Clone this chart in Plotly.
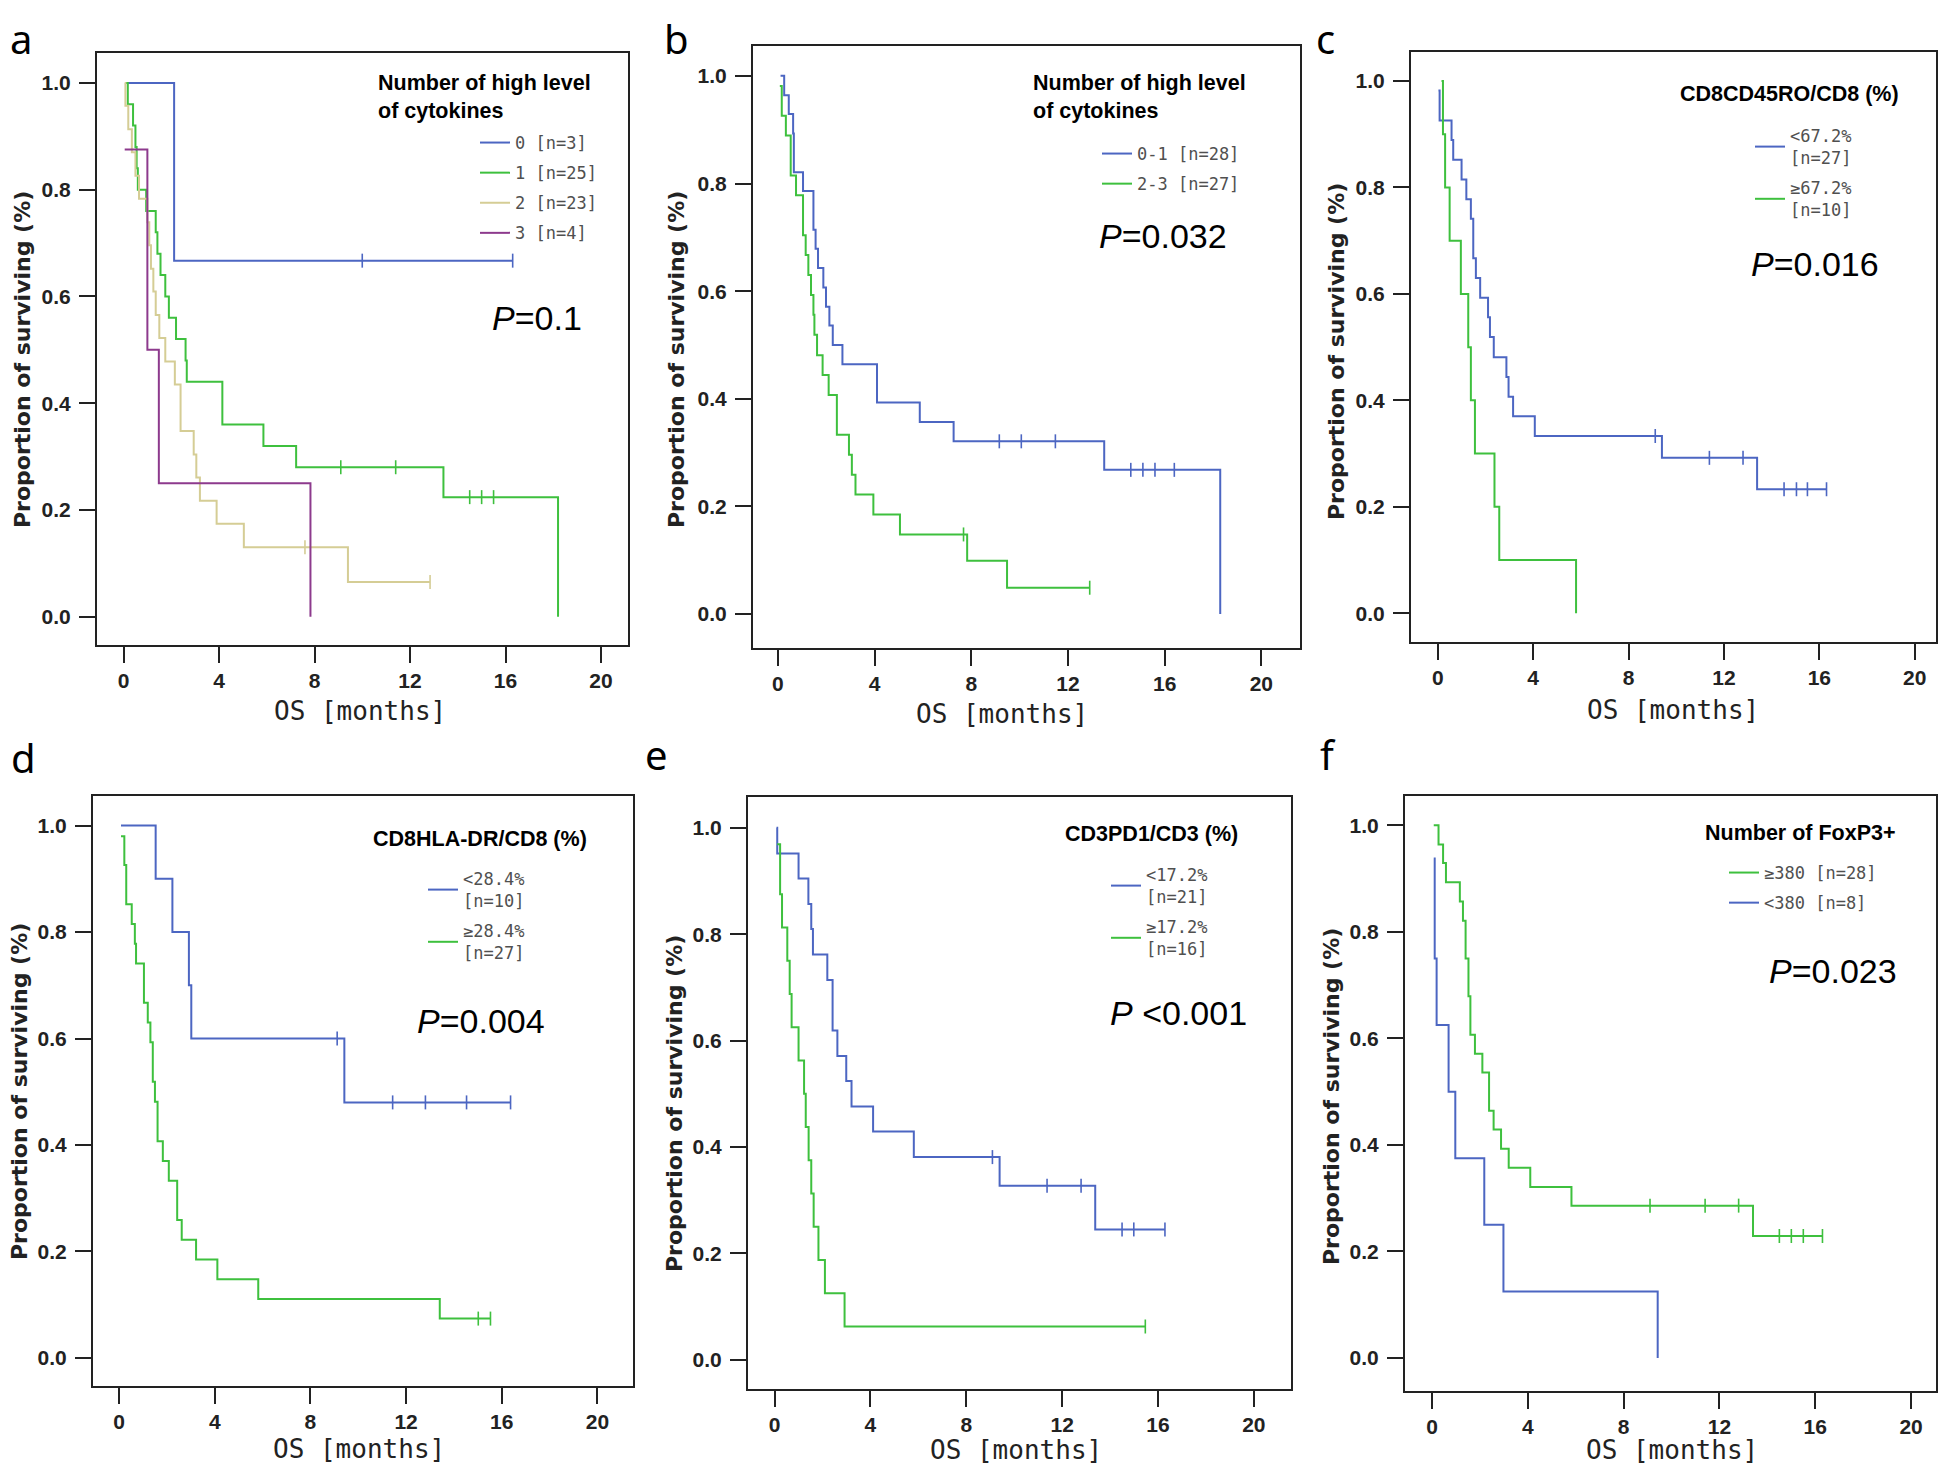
import numpy as np
import plotly.graph_objects as go

# ---------------- data ----------------
X_TICKS = [0, 4, 8, 12, 16, 20]
Y_TICKS = [0.0, 0.2, 0.4, 0.6, 0.8, 1.0]

# panel a : number of high level cytokines (0,1,2,3)
a0_start = (0.18, 1.0)
a0_t = [2.12]
a0_s = [0.667]
a0_end = 16.3
a0_cens = [10.0, 16.3]

a1_start = (0.10, 1.0)
a1_t = [0.18, 0.40, 0.50, 0.55, 0.60, 0.95, 1.35, 1.42, 1.55, 1.75, 1.90, 2.20, 2.60, 2.65, 4.14, 5.86, 7.23, 13.40, 18.20]
a1_s = [0.96, 0.92, 0.88, 0.84, 0.80, 0.76, 0.72, 0.68, 0.64, 0.60, 0.56, 0.52, 0.48, 0.44, 0.36, 0.32, 0.28, 0.224, 0.0]
a1_end = None
a1_cens = [9.1, 11.4, 14.5, 15.0, 15.5]

a2_start = (0.05, 1.0)
a2_t = [0.08, 0.20, 0.35, 0.50, 0.65, 1.00, 1.08, 1.15, 1.25, 1.35, 1.50, 1.75, 2.15, 2.39, 2.94, 3.05, 3.20, 3.90, 5.04, 9.40]
a2_s = [0.957, 0.913, 0.870, 0.826, 0.783, 0.739, 0.696, 0.652, 0.609, 0.565, 0.522, 0.478, 0.435, 0.348, 0.304, 0.261, 0.217, 0.174, 0.130, 0.065]
a2_end = 12.84
a2_cens = [7.6, 12.84]

a3_start = (0.05, 0.875)
a3_t = [1.00, 1.48, 7.83]
a3_s = [0.50, 0.25, 0.0]
a3_end = None
a3_cens = []

# panel b : 0-1 vs 2-3 cytokines
b1_start = (0.11, 1.0)
b1_t = [0.26, 0.45, 0.63, 0.66, 1.04, 1.47, 1.56, 1.66, 1.88, 1.99, 2.13, 2.27, 2.67, 4.10, 5.87, 7.27, 13.50, 18.30]
b1_s = [0.964, 0.929, 0.893, 0.821, 0.786, 0.714, 0.679, 0.643, 0.607, 0.571, 0.536, 0.500, 0.464, 0.393, 0.357, 0.321, 0.268, 0.0]
b1_end = None
b1_cens = [9.16, 10.07, 11.48, 14.6, 15.1, 15.6, 16.4]

b2_start = (0.08, 0.981)
b2_t = [0.16, 0.33, 0.53, 0.75, 1.04, 1.15, 1.26, 1.37, 1.47, 1.51, 1.62, 1.85, 2.10, 2.44, 2.94, 3.06, 3.21, 3.95, 5.05, 7.83, 9.48]
b2_s = [0.926, 0.889, 0.815, 0.778, 0.704, 0.667, 0.630, 0.593, 0.556, 0.519, 0.481, 0.444, 0.407, 0.333, 0.296, 0.259, 0.222, 0.185, 0.148, 0.099, 0.049]
b2_end = 12.9
b2_cens = [7.68, 12.9]

# panel c : CD8CD45RO/CD8
c1_start = (0.03, 0.982)
c1_t = [0.08, 0.58, 0.65, 1.00, 1.20, 1.39, 1.49, 1.60, 1.78, 2.11, 2.19, 2.35, 2.88, 2.97, 3.16, 4.07, 9.40, 13.39]
c1_s = [0.926, 0.889, 0.852, 0.815, 0.778, 0.741, 0.667, 0.630, 0.593, 0.556, 0.519, 0.481, 0.444, 0.407, 0.370, 0.333, 0.292, 0.233]
c1_end = 16.3
c1_cens = [9.12, 11.39, 12.8, 14.52, 15.04, 15.5, 16.3]

c2_start = (0.16, 1.0)
c2_t = [0.22, 0.31, 0.50, 0.97, 1.28, 1.39, 1.56, 2.38, 2.58, 5.80]
c2_s = [0.9, 0.8, 0.7, 0.6, 0.5, 0.4, 0.3, 0.2, 0.1, 0.0]
c2_end = None
c2_cens = []

# panel d : CD8HLA-DR/CD8
d1_start = (0.08, 1.0)
d1_t = [1.53, 2.23, 2.92, 3.02, 9.42]
d1_s = [0.9, 0.8, 0.7, 0.6, 0.48]
d1_end = 16.37
d1_cens = [9.12, 11.44, 12.81, 14.53, 16.37]

d2_start = (0.08, 0.98)
d2_t = [0.22, 0.30, 0.53, 0.66, 0.71, 1.04, 1.20, 1.31, 1.41, 1.50, 1.61, 1.83, 2.08, 2.43, 2.62, 3.22, 4.11, 5.82, 13.41]
d2_s = [0.926, 0.852, 0.815, 0.778, 0.741, 0.667, 0.630, 0.593, 0.519, 0.481, 0.407, 0.370, 0.333, 0.259, 0.222, 0.185, 0.148, 0.111, 0.074]
d2_end = 15.53
d2_cens = [15.02, 15.53]

# panel e : CD3PD1/CD3
e1_start = (0.08, 1.0)
e1_t = [0.11, 1.00, 1.41, 1.53, 1.60, 2.20, 2.42, 2.62, 2.99, 3.21, 4.11, 5.81, 9.39, 13.38]
e1_s = [0.952, 0.905, 0.857, 0.810, 0.762, 0.714, 0.619, 0.571, 0.524, 0.476, 0.429, 0.381, 0.327, 0.245]
e1_end = 16.29
e1_cens = [9.09, 11.37, 12.79, 14.5, 14.99, 16.29]

e2_start = (0.11, 0.969)
e2_t = [0.23, 0.31, 0.53, 0.63, 0.71, 1.00, 1.23, 1.30, 1.42, 1.53, 1.63, 1.83, 2.10, 2.92]
e2_s = [0.875, 0.8125, 0.75, 0.6875, 0.625, 0.5625, 0.5, 0.4375, 0.375, 0.3125, 0.25, 0.1875, 0.125, 0.0625]
e2_end = 15.47
e2_cens = [15.47]

# panel f : number of FoxP3+
f1_start = (0.07, 1.0)
f1_t = [0.27, 0.46, 0.58, 1.16, 1.29, 1.40, 1.52, 1.60, 1.79, 2.10, 2.38, 2.57, 2.88, 3.20, 4.10, 5.82, 13.40]
f1_s = [0.964, 0.929, 0.893, 0.857, 0.821, 0.750, 0.679, 0.607, 0.571, 0.536, 0.464, 0.429, 0.393, 0.357, 0.321, 0.286, 0.229]
f1_end = 16.3
f1_cens = [9.1, 11.4, 12.8, 14.5, 15.0, 15.5, 16.3]

f2_start = (0.07, 0.9375)
f2_t = [0.11, 0.19, 0.69, 0.97, 2.18, 2.98, 9.42]
f2_s = [0.75, 0.625, 0.5, 0.375, 0.25, 0.125, 0.0]
f2_end = None
f2_cens = []

# labels
legend_titles = ["Number of high level<br>of cytokines", "Number of high level<br>of cytokines",
                 "CD8CD45RO/CD8 (%)", "CD8HLA-DR/CD8 (%)", "CD3PD1/CD3 (%)", "Number of FoxP3+"]
p_texts = ["<i>P</i>=0.1", "<i>P</i>=0.032", "<i>P</i>=0.016", "<i>P</i>=0.004",
           "<i>P</i> &lt;0.001", "<i>P</i>=0.023"]
panel_letters = ["a", "b", "c", "d", "e", "f"]

# ---------------- styling / layout ----------------
W, H, OFF = 1930, 1456, 8
def px(X):
    return min(max((X - OFF) / W, 0.0), 1.0)
def py(Y):
    return min(max(1 - (Y - OFF) / H, 0.0), 1.0)

BLUE = '#4c66c2'
GREEN = '#3ec03e'
TAN = '#d5cd95'
PURPLE = '#8d3a8d'
INK = '#222222'

curves = [
    # panel, name, color, start, t, s, end, censors
    (0, "0 [n=3]", BLUE, a0_start, a0_t, a0_s, a0_end, a0_cens),
    (0, "1 [n=25]", GREEN, a1_start, a1_t, a1_s, a1_end, a1_cens),
    (0, "2 [n=23]", TAN, a2_start, a2_t, a2_s, a2_end, a2_cens),
    (0, "3 [n=4]", PURPLE, a3_start, a3_t, a3_s, a3_end, a3_cens),
    (1, "0-1 [n=28]", BLUE, b1_start, b1_t, b1_s, b1_end, b1_cens),
    (1, "2-3 [n=27]", GREEN, b2_start, b2_t, b2_s, b2_end, b2_cens),
    (2, "&lt;67.2%<br>[n=27]", BLUE, c1_start, c1_t, c1_s, c1_end, c1_cens),
    (2, "≥67.2%<br>[n=10]", GREEN, c2_start, c2_t, c2_s, c2_end, c2_cens),
    (3, "&lt;28.4%<br>[n=10]", BLUE, d1_start, d1_t, d1_s, d1_end, d1_cens),
    (3, "≥28.4%<br>[n=27]", GREEN, d2_start, d2_t, d2_s, d2_end, d2_cens),
    (4, "&lt;17.2%<br>[n=21]", BLUE, e1_start, e1_t, e1_s, e1_end, e1_cens),
    (4, "≥17.2%<br>[n=16]", GREEN, e2_start, e2_t, e2_s, e2_end, e2_cens),
    (5, "≥380 [n=28]", GREEN, f1_start, f1_t, f1_s, f1_end, f1_cens),
    (5, "&lt;380 [n=8]", BLUE, f2_start, f2_t, f2_s, f2_end, f2_cens),
]

# panel boxes in pixel coords (left, top, right, bottom), x range, y range
panels = [
    dict(box=(97, 53, 628, 645), xr=(-1.11, 21.13), yr=(-0.053, 1.056)),
    dict(box=(753, 46, 1300, 648), xr=(-1.03, 21.6), yr=(-0.063, 1.0555)),
    dict(box=(1411, 52, 1936, 642), xr=(-1.12, 20.89), yr=(-0.054, 1.0545)),
    dict(box=(93, 796, 633, 1386), xr=(-1.09, 21.49), yr=(-0.0526, 1.0554)),
    dict(box=(748, 797, 1291, 1389), xr=(-1.11, 21.55), yr=(-0.055, 1.058)),
    dict(box=(1405, 796, 1936, 1391), xr=(-1.13, 21.04), yr=(-0.062, 1.055)),
]
legend_pos = [(475, 125), (1097, 136), (1750, 118), (423, 861), (1106, 857), (1724, 855)]
legend_title_pos = [(376, 69), (1031, 69), (1678, 80), (371, 825), (1063, 820), (1703, 819)]
p_pos = [(490, 318), (1097, 236), (1749, 264), (415, 1021), (1108, 1013), (1767, 971)]
xtitle_pos = [(360, 711), (1002, 714), (1673, 710), (359, 1449), (1016, 1450), (1672, 1450)]
ytitle_pos = [(22, 360), (676, 360), (1336, 352), (19, 1092), (674, 1104), (1331, 1097)]
# (left x, y, anchor) for the panel letters
letter_pos = [(8, 9, 'top'), (662, 9, 'top'), (1314, 9, 'top'),
              (9, 787, 'bottom'), (643, 784, 'bottom'), (1318, 784, 'bottom')]


def axname(i, kind):
    return kind if i == 0 else f"{kind}{i + 1}"


def km_xy(start, t, s, t_end):
    x = [start[0]] + list(t)
    y = [start[1]] + list(s)
    if t_end is not None and t_end > x[-1]:
        x.append(t_end)
        y.append(y[-1])
    return x, y


def step_at(start, t, s, c):
    idx = int(np.searchsorted(np.asarray(t), c, side='right')) - 1
    return start[1] if idx < 0 else s[idx]


fig = go.Figure()
for k, (pi, name, col, start, t, s, t_end, cens) in enumerate(curves):
    xa, ya = axname(pi, 'x'), axname(pi, 'y')
    leg = 'legend' if pi == 0 else f'legend{pi + 1}'
    x, y = km_xy(start, t, s, t_end)
    fig.add_trace(go.Scatter(x=x, y=y, mode='lines', line=dict(color=col, width=2, shape='hv'),
                             name=name, xaxis=xa, yaxis=ya, legend=leg, legendgroup=f"g{k}",
                             hoverinfo='skip'))
    if cens:
        cy = [step_at(start, t, s, c) for c in cens]
        fig.add_trace(go.Scatter(x=cens, y=cy, mode='markers',
                                 marker=dict(symbol='line-ns', size=10, color=col,
                                             line=dict(color=col, width=1.6)),
                                 showlegend=False, xaxis=xa, yaxis=ya, legendgroup=f"g{k}",
                                 legend=leg, hoverinfo='skip'))

layout = dict(width=W, height=H, margin=dict(l=0, r=0, t=0, b=0),
              paper_bgcolor='white', plot_bgcolor='white', showlegend=True)

tickfont = dict(family='Liberation Sans, Arial, sans-serif', size=21, color=INK, weight='bold')
annotations = []
for i, p in enumerate(panels):
    L, T, R, B = p['box']
    xk = 'xaxis' if i == 0 else f'xaxis{i + 1}'
    yk = 'yaxis' if i == 0 else f'yaxis{i + 1}'
    common = dict(ticks='outside', ticklen=16, tickwidth=2, tickcolor=INK, showline=True,
                  mirror=True, linecolor=INK, linewidth=2, showgrid=False, zeroline=False,
                  tickfont=tickfont, fixedrange=True)
    layout[xk] = dict(domain=[px(L), px(R)], range=list(p['xr']), anchor=axname(i, 'y'),
                      tickvals=X_TICKS, **common)
    layout[yk] = dict(domain=[py(B), py(T)], range=list(p['yr']), anchor=axname(i, 'x'),
                      tickvals=Y_TICKS, tickformat='.1f', ticklabelstandoff=4, **common)
    lk = 'legend' if i == 0 else f'legend{i + 1}'
    lx, ly = legend_pos[i]
    layout[lk] = dict(x=px(lx), y=py(ly), xanchor='left', yanchor='top', xref='paper', yref='paper',
                      bgcolor='rgba(0,0,0,0)', borderwidth=0, tracegroupgap=5, itemwidth=30,
                      font=dict(family='DejaVu Sans Mono, monospace', size=17, color='#505050'))
    tx, ty = legend_title_pos[i]
    annotations.append(dict(x=px(tx), y=py(ty), xref='paper', yref='paper', xanchor='left',
                            yanchor='top', align='left', showarrow=False, text=legend_titles[i],
                            font=dict(family='Liberation Sans, Arial, sans-serif', size=21.5,
                                      color='black', weight='bold')))
    ptx, pty = p_pos[i]
    annotations.append(dict(x=px(ptx), y=py(pty), xref='paper', yref='paper', xanchor='left',
                            yanchor='middle', showarrow=False, text=p_texts[i],
                            font=dict(family='Liberation Sans, Arial, sans-serif', size=34,
                                      color='black')))
    xtx, xty = xtitle_pos[i]
    annotations.append(dict(x=px(xtx), y=py(xty), xref='paper', yref='paper', xanchor='center',
                            yanchor='middle', showarrow=False, text='OS [months]',
                            font=dict(family='DejaVu Sans Mono, monospace', size=26, color=INK)))
    ytx, yty = ytitle_pos[i]
    annotations.append(dict(x=px(ytx), y=py(yty), xref='paper', yref='paper', xanchor='center',
                            yanchor='middle', showarrow=False, textangle=-90,
                            text='Proportion of surviving (%)',
                            font=dict(family='DejaVu Sans, sans-serif', size=22, color=INK,
                                      weight='bold')))
    lx2, ly2, lanchor = letter_pos[i]
    annotations.append(dict(x=px(lx2), y=py(ly2), xref='paper', yref='paper', xanchor='left',
                            yanchor=lanchor, showarrow=False, text=panel_letters[i],
                            font=dict(family='Noto Sans, sans-serif', size=40, color='black')))

layout['annotations'] = annotations
fig.update_layout(**layout)
fig.write_html("out.html")
